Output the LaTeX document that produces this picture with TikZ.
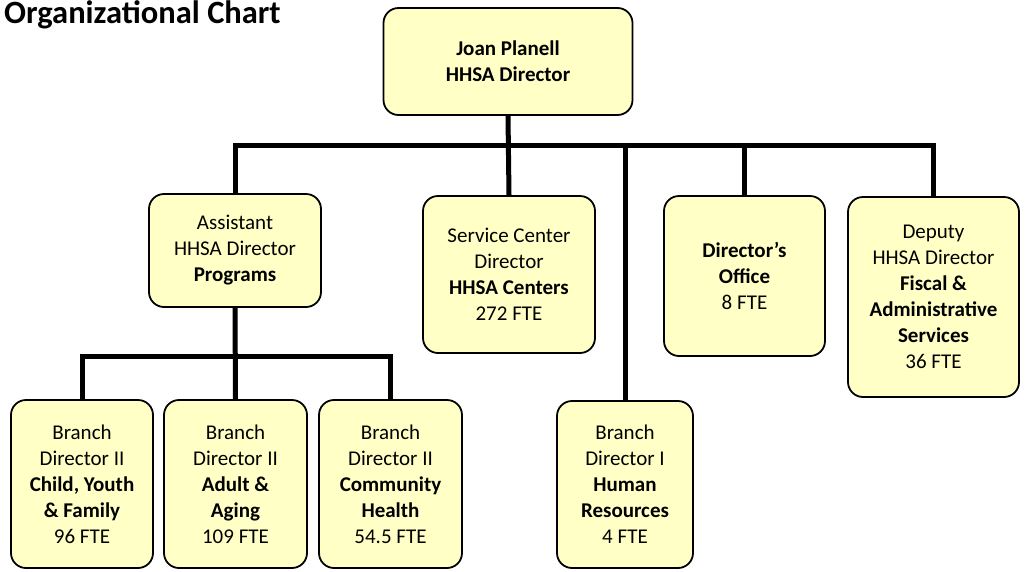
\documentclass[tikz,border=0pt]{standalone}
\usepackage{fontspec}
\setmainfont{Carlito}
\usepackage{tikz}

\definecolor{boxfill}{HTML}{FFFFC6}

\begin{document}
\begin{tikzpicture}[x=1pt, y=-1pt,
    every node/.style={font=\fontsize{21}{26}\selectfont, align=center, inner sep=0pt},
    unit/.style={draw, fill=boxfill, line width=1.8pt, rounded corners=15pt},
    link/.style={line width=5pt}]
    \useasboundingbox (0,0) rectangle (1026,571);

    % title
    \node[anchor=base west, font=\fontsize{32.5}{38}\selectfont\bfseries] (title) at (4,23) {Organizational Chart};

    % director and the first row
    \node[unit, minimum width=249pt, minimum height=107pt] (top) at (508,61.5) {\textbf{Joan Planell}\\\textbf{HHSA Director}};
    \node[unit, minimum width=172pt, minimum height=113pt] (prog) at (235,250.5) {Assistant\\HHSA Director\\\textbf{Programs}};
    \node[unit, minimum width=172pt, minimum height=157pt] (svc) at (509,274.5) {Service Center\\Director\\\textbf{HHSA Centers}\\272 FTE};
    \node[unit, minimum width=161pt, minimum height=160pt] (office) at (744.5,276) {\textbf{Director’s}\\\textbf{Office}\\8 FTE};
    \node[unit, minimum width=171pt, minimum height=200pt] (deputy) at (933.5,297) {Deputy\\HHSA Director\\\textbf{Fiscal \&}\\\textbf{Administrative}\\\textbf{Services}\\36 FTE};

    % branches
    \node[unit, minimum width=142pt, minimum height=168pt] (cyf) at (82,484) {Branch\\Director II\\\textbf{Child, Youth}\\\textbf{\& Family}\\96 FTE};
    \node[unit, minimum width=143pt, minimum height=168pt] (adult) at (235.5,484) {Branch\\Director II\\\textbf{Adult \&}\\\textbf{Aging}\\109 FTE};
    \node[unit, minimum width=143pt, minimum height=168pt] (health) at (390.5,484) {Branch\\Director II\\\textbf{Community}\\\textbf{Health}\\54.5 FTE};
    \node[unit, minimum width=136pt, minimum height=167pt] (hr) at (625,484.5) {Branch\\Director I\\\textbf{Human}\\\textbf{Resources}\\4 FTE};

    % connectors
    \coordinate (bus) at (0,145);
    \coordinate (sub) at (0,356);
    \draw[link] (top.south) -- (svc.north);
    \draw[link] (prog.north) |- (bus -| deputy.north) -- (deputy.north);
    \draw[link] (office.north) -- (office.north |- bus);
    \draw[link] (hr.north) -- (hr.north |- bus);
    \draw[link] (prog.south) -- (adult.north);
    \draw[link] (cyf.north) |- (sub -| health.north) -- (health.north);
\end{tikzpicture}
\end{document}
